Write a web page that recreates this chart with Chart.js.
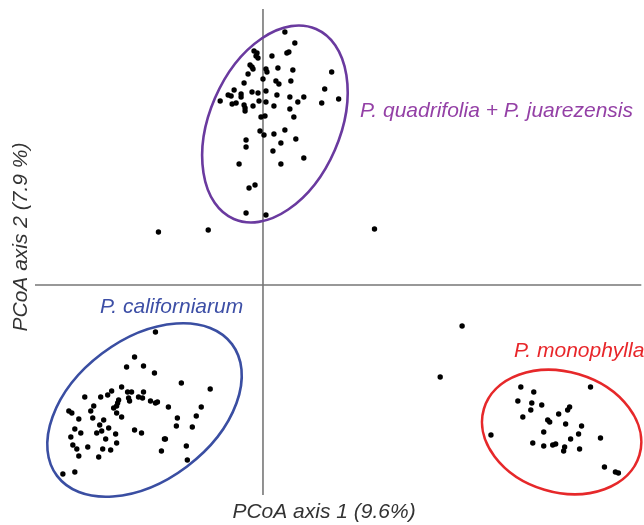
<!DOCTYPE html>
<html>
<head>
<meta charset="utf-8">
<script src="https://cdn.jsdelivr.net/npm/chart.js@4/dist/chart.umd.min.js"></script>
<style>
  html, body { margin: 0; padding: 0; background: #fff; }
  #wrap { position: relative; width: 644px; height: 525px; }
</style>
</head>
<body>
<div id="wrap"><canvas id="pcoa" width="644" height="525"></canvas></div>
<script>
// PCoA scores (axis 1, axis 2)
const quadPoints = [
  [0.22,2.53],[0.32,2.42],[-0.09,2.34],[-0.06,2.32],[-0.07,2.29],[-0.05,2.27],[0.09,2.29],[0.24,2.32],
  [0.26,2.33],[-0.13,2.20],[-0.11,2.18],[-0.10,2.16],[-0.15,2.11],[0.03,2.16],[0.04,2.13],[0.15,2.17],
  [0.30,2.15],[0.69,2.13],[-0.19,2.02],[0.00,2.06],[0.13,2.04],[0.16,2.01],[0.28,2.04],[-0.29,1.95],
  [-0.32,1.89],[-0.35,1.90],[-0.22,1.91],[-0.22,1.88],[-0.11,1.93],[-0.05,1.92],[0.03,1.94],[0.14,1.90],
  [0.27,1.88],[0.41,1.88],[0.62,1.96],[0.76,1.86],[-0.43,1.84],[-0.31,1.81],[-0.27,1.82],[-0.19,1.80],
  [-0.18,1.77],[-0.18,1.74],[-0.10,1.79],[-0.04,1.84],[0.03,1.83],[0.11,1.79],[0.35,1.83],[0.59,1.82],
  [0.27,1.76],[0.31,1.68],[-0.02,1.68],[0.02,1.69],[-0.03,1.54],[0.01,1.50],[0.11,1.51],[0.22,1.55],
  [-0.17,1.45],[-0.17,1.38],[0.18,1.42],[0.33,1.46],[0.10,1.34],[0.41,1.27],[-0.24,1.21],[0.18,1.21],
  [-0.14,0.97],[-0.08,1.00],[-0.17,0.72],[0.03,0.70]
];
const califPoints = [
  [-1.08,-0.47],[-1.29,-0.72],[-1.20,-0.81],[-1.37,-0.82],[-1.09,-0.88],[-0.82,-0.98],[-0.53,-1.04],
  [-1.42,-1.02],[-1.52,-1.06],[-1.36,-1.07],[-1.32,-1.07],[-1.20,-1.07],[-1.79,-1.12],[-1.63,-1.12],
  [-1.56,-1.10],[-1.45,-1.15],[-1.46,-1.18],[-1.35,-1.13],[-1.34,-1.16],[-1.25,-1.12],[-1.21,-1.13],
  [-1.13,-1.16],[-1.08,-1.18],[-1.06,-1.17],[-0.95,-1.22],[-0.62,-1.22],[-1.70,-1.21],[-1.47,-1.21],
  [-1.50,-1.23],[-1.95,-1.26],[-1.92,-1.28],[-1.73,-1.26],[-1.47,-1.28],[-1.42,-1.32],[-1.85,-1.34],
  [-1.71,-1.33],[-1.60,-1.35],[-0.86,-1.33],[-0.67,-1.31],[-1.64,-1.40],[-0.87,-1.41],[-0.71,-1.42],
  [-1.89,-1.44],[-1.55,-1.43],[-1.83,-1.48],[-1.67,-1.48],[-1.62,-1.46],[-1.48,-1.49],[-1.29,-1.45],
  [-1.22,-1.48],[-1.93,-1.52],[-1.58,-1.54],[-0.99,-1.54],[-0.98,-1.54],[-1.47,-1.58],[-1.91,-1.60],
  [-1.76,-1.62],[-1.87,-1.64],[-1.61,-1.64],[-1.53,-1.65],[-1.02,-1.66],[-0.77,-1.61],[-1.85,-1.71],
  [-1.65,-1.72],[-0.76,-1.75],[-1.89,-1.87],[-2.01,-1.89]
];
const monoPoints = [
  [2.59,-1.02],[2.72,-1.07],[3.29,-1.02],[2.56,-1.16],[2.70,-1.18],[2.80,-1.20],[2.69,-1.25],[3.08,-1.22],
  [3.06,-1.25],[2.97,-1.29],[2.61,-1.32],[2.86,-1.35],[2.88,-1.37],[3.04,-1.39],[3.20,-1.41],[2.29,-1.50],
  [2.82,-1.47],[3.17,-1.49],[3.39,-1.53],[3.09,-1.54],[2.71,-1.58],[2.82,-1.61],[2.91,-1.60],[2.94,-1.59],
  [3.03,-1.62],[3.02,-1.66],[3.18,-1.64],[3.43,-1.82],[3.54,-1.87],[3.57,-1.88]
];
// individuals outside the three ellipses
const otherPoints = [[-1.05,0.53],[-0.55,0.55],[1.12,0.56],[2.00,-0.41],[1.78,-0.92]];

const groupNames = ['P. quadrifolia + P. juarezensis', 'P. californiarum', 'P. monophylla'];
const groupColors = ['#6a3a9f', '#3a4ea2', '#e6282a'];
const labelColors = ['#9440a6', '#3d4fa6', '#e8262a'];
// ellipse: centre x, centre y, semi-major, semi-minor, angle of major axis (deg)
const ellCx = [0.12, -1.19, 3.00];
const ellCy = [1.61, -1.25, -1.47];
const ellA = [1.04, 1.10, 0.815];
const ellB = [0.656, 0.71, 0.605];
const ellAngle = [66.6, 37, -16.6];

const axisTitles = ['PCoA axis 1 (9.6%)', 'PCoA axis 2 (7.9 %)'];

const toXY = arr => arr.map(p => ({ x: p[0], y: p[1] }));

const originLines = {
  id: 'originLines',
  beforeDatasetsDraw(chart) {
    const { ctx, chartArea: a, scales: { x, y } } = chart;
    const x0 = x.getPixelForValue(0), y0 = y.getPixelForValue(0);
    ctx.save();
    ctx.strokeStyle = '#777';
    ctx.lineWidth = 1.6;
    ctx.beginPath();
    ctx.moveTo(a.left, y0); ctx.lineTo(a.right, y0);
    ctx.moveTo(x0, a.top); ctx.lineTo(x0, a.bottom);
    ctx.stroke();
    ctx.restore();
  }
};

const ellipses = {
  id: 'ellipses',
  afterDatasetsDraw(chart) {
    const { ctx, scales: { x, y } } = chart;
    const unit = x.getPixelForValue(1) - x.getPixelForValue(0);
    ctx.save();
    ctx.lineWidth = 2.6;
    ellCx.forEach((cx, i) => {
      ctx.strokeStyle = groupColors[i];
      ctx.beginPath();
      ctx.ellipse(x.getPixelForValue(cx), y.getPixelForValue(ellCy[i]),
        ellA[i] * unit, ellB[i] * unit, -ellAngle[i] * Math.PI / 180, 0, Math.PI * 2);
      ctx.stroke();
    });
    ctx.restore();
  }
};

const labels = {
  id: 'labels',
  afterDraw(chart) {
    const ctx = chart.ctx;
    ctx.save();
    ctx.font = 'italic 21px "Liberation Sans", Arial, sans-serif';
    ctx.textBaseline = 'middle';
    ctx.textAlign = 'left';
    ctx.fillStyle = labelColors[0]; ctx.fillText(groupNames[0], 360, 111);
    ctx.fillStyle = labelColors[1]; ctx.fillText(groupNames[1], 100, 307);
    ctx.fillStyle = labelColors[2]; ctx.fillText(groupNames[2], 514, 351);
    ctx.fillStyle = '#333';
    ctx.textAlign = 'center';
    ctx.fillText(axisTitles[0], 324, 512);
    ctx.translate(21, 237);
    ctx.rotate(-Math.PI / 2);
    ctx.fillText(axisTitles[1], 0, 0);
    ctx.restore();
  }
};

const dot = { backgroundColor: '#000', borderWidth: 0, pointRadius: 2.7, pointHoverRadius: 2.7 };

new Chart(document.getElementById('pcoa'), {
  type: 'scatter',
  data: {
    datasets: [
      { label: groupNames[0], data: toXY(quadPoints), ...dot },
      { label: groupNames[1], data: toXY(califPoints), ...dot },
      { label: groupNames[2], data: toXY(monoPoints), ...dot },
      { label: 'other', data: toXY(otherPoints), ...dot }
    ]
  },
  options: {
    responsive: false,
    animation: false,
    clip: false,
    layout: { padding: { left: 35, top: 9, right: 0, bottom: 30 } },
    plugins: { legend: { display: false }, tooltip: { enabled: false } },
    scales: {
      x: { type: 'linear', display: false, min: -2.29, max: 3.80 },
      y: { type: 'linear', display: false, min: -2.10, max: 2.76 }
    }
  },
  plugins: [originLines, ellipses, labels]
});
</script>
</body>
</html>
